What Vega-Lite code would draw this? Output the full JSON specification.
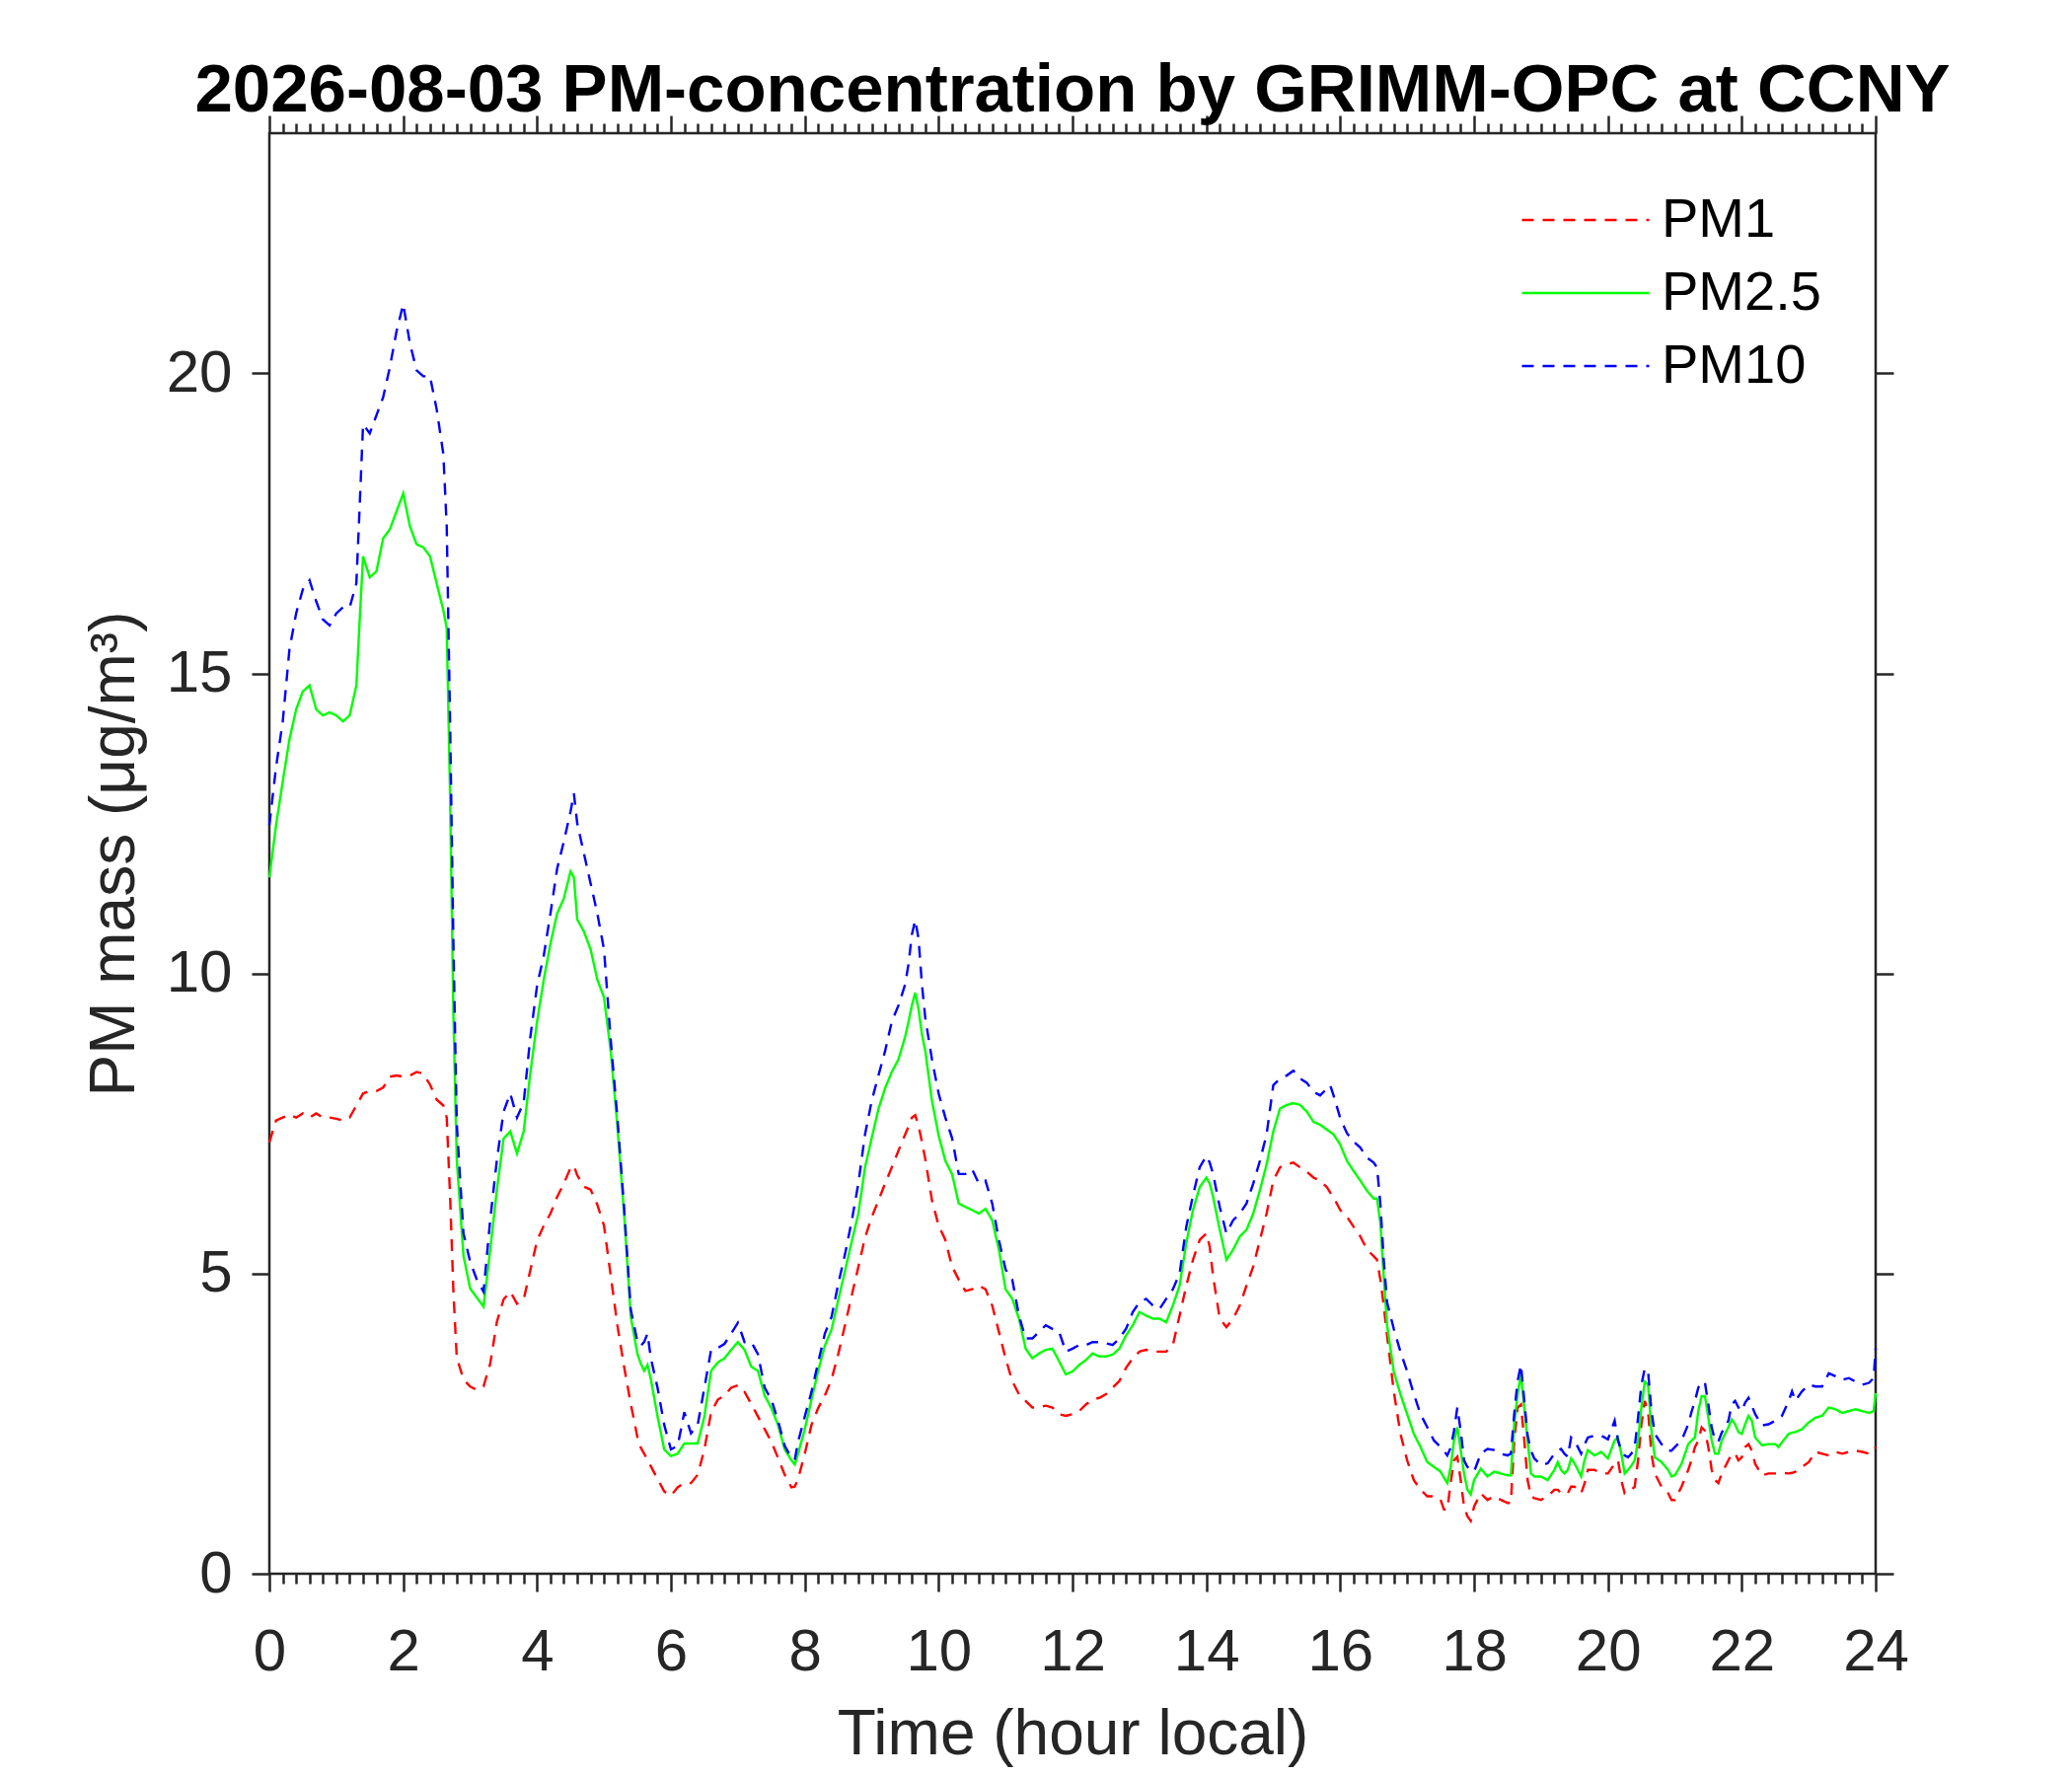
{
  "$schema": "https://vega.github.io/schema/vega-lite/v6.json",
  "width": 1628,
  "height": 1460,
  "autosize": "none",
  "padding": {"left": 273, "top": 135, "right": 199, "bottom": 205},
  "background": "white",
  "config": {
    "view": {"stroke": "#262626", "strokeWidth": 2.5},
    "font": "Liberation Sans"
  },
  "title": {
    "text": "2026-08-03 PM-concentration by GRIMM-OPC at CCNY",
    "fontSize": 69,
    "fontWeight": "bold",
    "font": "Liberation Sans",
    "color": "#000000",
    "anchor": "middle",
    "baseline": "alphabetic",
    "offset": 2,
    "dy": 68
  },
  "data": {
    "values": [
      {"h":0,"PM1":7.19,"PM25":11.6,"PM10":12.47},
      {"h":0.1,"PM1":7.55,"PM25":12.47,"PM10":13.44},
      {"h":0.2,"PM1":7.6,"PM25":13.2,"PM10":14.2},
      {"h":0.3,"PM1":7.65,"PM25":13.9,"PM10":15.4},
      {"h":0.4,"PM1":7.6,"PM25":14.4,"PM10":16.0},
      {"h":0.5,"PM1":7.67,"PM25":14.7,"PM10":16.4},
      {"h":0.6,"PM1":7.6,"PM25":14.8,"PM10":16.55},
      {"h":0.7,"PM1":7.67,"PM25":14.4,"PM10":16.2},
      {"h":0.8,"PM1":7.6,"PM25":14.3,"PM10":15.9},
      {"h":0.9,"PM1":7.6,"PM25":14.35,"PM10":15.8},
      {"h":1.0,"PM1":7.58,"PM25":14.3,"PM10":16.0},
      {"h":1.1,"PM1":7.55,"PM25":14.2,"PM10":16.1},
      {"h":1.2,"PM1":7.6,"PM25":14.3,"PM10":16.1},
      {"h":1.3,"PM1":7.8,"PM25":14.8,"PM10":16.5},
      {"h":1.35,"PM1":7.9,"PM25":15.9,"PM10":17.8},
      {"h":1.4,"PM1":8.0,"PM25":16.95,"PM10":19.15},
      {"h":1.5,"PM1":8.04,"PM25":16.6,"PM10":19.0},
      {"h":1.6,"PM1":8.04,"PM25":16.7,"PM10":19.3},
      {"h":1.7,"PM1":8.1,"PM25":17.25,"PM10":19.6},
      {"h":1.8,"PM1":8.28,"PM25":17.4,"PM10":20.1},
      {"h":1.9,"PM1":8.3,"PM25":17.7,"PM10":20.7},
      {"h":2.0,"PM1":8.28,"PM25":18.0,"PM10":21.15},
      {"h":2.1,"PM1":8.3,"PM25":17.45,"PM10":20.5},
      {"h":2.2,"PM1":8.36,"PM25":17.15,"PM10":20.05},
      {"h":2.3,"PM1":8.33,"PM25":17.1,"PM10":19.95},
      {"h":2.4,"PM1":8.15,"PM25":16.95,"PM10":19.95},
      {"h":2.5,"PM1":7.9,"PM25":16.5,"PM10":19.4},
      {"h":2.6,"PM1":7.8,"PM25":16.05,"PM10":18.65},
      {"h":2.65,"PM1":7.6,"PM25":15.75,"PM10":17.45},
      {"h":2.7,"PM1":6.3,"PM25":12.95,"PM10":14.2},
      {"h":2.75,"PM1":4.7,"PM25":9.3,"PM10":10.5},
      {"h":2.8,"PM1":3.6,"PM25":6.9,"PM10":7.5},
      {"h":2.9,"PM1":3.24,"PM25":5.3,"PM10":5.67},
      {"h":3.0,"PM1":3.12,"PM25":4.75,"PM10":5.2},
      {"h":3.1,"PM1":3.06,"PM25":4.6,"PM10":4.9},
      {"h":3.2,"PM1":3.12,"PM25":4.45,"PM10":4.7},
      {"h":3.3,"PM1":3.5,"PM25":5.4,"PM10":5.9},
      {"h":3.4,"PM1":4.2,"PM25":6.4,"PM10":6.9},
      {"h":3.5,"PM1":4.57,"PM25":7.25,"PM10":7.7},
      {"h":3.6,"PM1":4.7,"PM25":7.37,"PM10":8.0},
      {"h":3.7,"PM1":4.5,"PM25":7.0,"PM10":7.6},
      {"h":3.8,"PM1":4.57,"PM25":7.37,"PM10":7.85},
      {"h":3.9,"PM1":5.06,"PM25":8.35,"PM10":8.95},
      {"h":4.0,"PM1":5.55,"PM25":9.2,"PM10":9.8},
      {"h":4.1,"PM1":5.8,"PM25":9.9,"PM10":10.3},
      {"h":4.2,"PM1":6.0,"PM25":10.5,"PM10":11.0},
      {"h":4.3,"PM1":6.28,"PM25":11.0,"PM10":11.75},
      {"h":4.4,"PM1":6.5,"PM25":11.25,"PM10":12.2},
      {"h":4.5,"PM1":6.76,"PM25":11.7,"PM10":12.7},
      {"h":4.55,"PM1":6.8,"PM25":11.6,"PM10":13.0},
      {"h":4.6,"PM1":6.64,"PM25":10.9,"PM10":12.5},
      {"h":4.7,"PM1":6.45,"PM25":10.7,"PM10":12.0},
      {"h":4.8,"PM1":6.4,"PM25":10.4,"PM10":11.5},
      {"h":4.9,"PM1":6.15,"PM25":9.9,"PM10":11.0},
      {"h":5.0,"PM1":5.8,"PM25":9.6,"PM10":10.4},
      {"h":5.1,"PM1":4.97,"PM25":8.71,"PM10":8.9},
      {"h":5.2,"PM1":4.14,"PM25":7.46,"PM10":7.6},
      {"h":5.3,"PM1":3.45,"PM25":6.0,"PM10":6.1},
      {"h":5.4,"PM1":2.83,"PM25":4.28,"PM10":4.4},
      {"h":5.5,"PM1":2.27,"PM25":3.66,"PM10":3.86},
      {"h":5.55,"PM1":2.1,"PM25":3.5,"PM10":3.8},
      {"h":5.6,"PM1":2.0,"PM25":3.38,"PM10":3.86},
      {"h":5.65,"PM1":1.9,"PM25":3.48,"PM10":4.0},
      {"h":5.7,"PM1":1.79,"PM25":3.24,"PM10":3.59},
      {"h":5.8,"PM1":1.58,"PM25":2.62,"PM10":3.1},
      {"h":5.9,"PM1":1.37,"PM25":2.07,"PM10":2.48},
      {"h":6.0,"PM1":1.3,"PM25":1.96,"PM10":2.07},
      {"h":6.1,"PM1":1.44,"PM25":2.0,"PM10":2.13},
      {"h":6.2,"PM1":1.51,"PM25":2.17,"PM10":2.69},
      {"h":6.3,"PM1":1.51,"PM25":2.17,"PM10":2.34},
      {"h":6.4,"PM1":1.65,"PM25":2.17,"PM10":2.48},
      {"h":6.5,"PM1":2.07,"PM25":2.62,"PM10":3.1},
      {"h":6.6,"PM1":2.69,"PM25":3.38,"PM10":3.73},
      {"h":6.7,"PM1":2.9,"PM25":3.52,"PM10":3.76},
      {"h":6.8,"PM1":2.97,"PM25":3.59,"PM10":3.83},
      {"h":6.9,"PM1":3.1,"PM25":3.73,"PM10":4.0},
      {"h":7.0,"PM1":3.14,"PM25":3.86,"PM10":4.18},
      {"h":7.1,"PM1":3.03,"PM25":3.73,"PM10":3.86},
      {"h":7.2,"PM1":2.83,"PM25":3.45,"PM10":3.86},
      {"h":7.3,"PM1":2.62,"PM25":3.38,"PM10":3.66},
      {"h":7.4,"PM1":2.41,"PM25":2.97,"PM10":3.1},
      {"h":7.5,"PM1":2.2,"PM25":2.76,"PM10":2.9},
      {"h":7.6,"PM1":1.93,"PM25":2.48,"PM10":2.55},
      {"h":7.7,"PM1":1.65,"PM25":2.07,"PM10":2.13},
      {"h":7.8,"PM1":1.44,"PM25":1.89,"PM10":1.93},
      {"h":7.85,"PM1":1.45,"PM25":1.82,"PM10":1.9},
      {"h":7.9,"PM1":1.58,"PM25":2.0,"PM10":2.2},
      {"h":8.0,"PM1":2.0,"PM25":2.41,"PM10":2.62},
      {"h":8.1,"PM1":2.48,"PM25":2.9,"PM10":3.03},
      {"h":8.2,"PM1":2.76,"PM25":3.38,"PM10":3.52},
      {"h":8.3,"PM1":2.97,"PM25":3.8,"PM10":4.0},
      {"h":8.4,"PM1":3.24,"PM25":4.07,"PM10":4.28},
      {"h":8.5,"PM1":3.66,"PM25":4.56,"PM10":4.83},
      {"h":8.6,"PM1":4.14,"PM25":5.04,"PM10":5.32},
      {"h":8.7,"PM1":4.63,"PM25":5.53,"PM10":5.87},
      {"h":8.8,"PM1":5.11,"PM25":6.0,"PM10":6.5},
      {"h":8.9,"PM1":5.6,"PM25":6.77,"PM10":7.32},
      {"h":9.0,"PM1":5.94,"PM25":7.26,"PM10":7.88},
      {"h":9.1,"PM1":6.22,"PM25":7.74,"PM10":8.3},
      {"h":9.2,"PM1":6.5,"PM25":8.09,"PM10":8.71},
      {"h":9.3,"PM1":6.77,"PM25":8.36,"PM10":9.2},
      {"h":9.4,"PM1":7.05,"PM25":8.57,"PM10":9.47},
      {"h":9.5,"PM1":7.32,"PM25":8.95,"PM10":9.82},
      {"h":9.55,"PM1":7.45,"PM25":9.2,"PM10":10.16},
      {"h":9.6,"PM1":7.6,"PM25":9.47,"PM10":10.65},
      {"h":9.65,"PM1":7.64,"PM25":9.68,"PM10":10.89},
      {"h":9.7,"PM1":7.46,"PM25":9.4,"PM10":10.58},
      {"h":9.75,"PM1":7.2,"PM25":8.99,"PM10":9.82},
      {"h":9.8,"PM1":6.91,"PM25":8.71,"PM10":9.26},
      {"h":9.9,"PM1":6.22,"PM25":7.88,"PM10":8.57},
      {"h":10.0,"PM1":5.8,"PM25":7.3,"PM10":8.0},
      {"h":10.1,"PM1":5.56,"PM25":6.88,"PM10":7.6},
      {"h":10.2,"PM1":5.12,"PM25":6.66,"PM10":7.26},
      {"h":10.3,"PM1":4.9,"PM25":6.17,"PM10":6.66},
      {"h":10.4,"PM1":4.71,"PM25":6.11,"PM10":6.66},
      {"h":10.5,"PM1":4.74,"PM25":6.06,"PM10":6.74},
      {"h":10.6,"PM1":4.8,"PM25":6.0,"PM10":6.5},
      {"h":10.7,"PM1":4.74,"PM25":6.08,"PM10":6.55},
      {"h":10.8,"PM1":4.47,"PM25":5.89,"PM10":6.17},
      {"h":10.9,"PM1":4.03,"PM25":5.4,"PM10":5.56},
      {"h":11.0,"PM1":3.59,"PM25":4.74,"PM10":5.07},
      {"h":11.1,"PM1":3.21,"PM25":4.58,"PM10":4.9},
      {"h":11.2,"PM1":2.99,"PM25":4.25,"PM10":4.3},
      {"h":11.3,"PM1":2.88,"PM25":3.75,"PM10":3.92},
      {"h":11.4,"PM1":2.77,"PM25":3.59,"PM10":3.92},
      {"h":11.5,"PM1":2.77,"PM25":3.67,"PM10":4.03},
      {"h":11.6,"PM1":2.8,"PM25":3.73,"PM10":4.14},
      {"h":11.7,"PM1":2.77,"PM25":3.75,"PM10":4.08},
      {"h":11.8,"PM1":2.66,"PM25":3.54,"PM10":4.03},
      {"h":11.9,"PM1":2.63,"PM25":3.32,"PM10":3.7},
      {"h":12.0,"PM1":2.66,"PM25":3.37,"PM10":3.75},
      {"h":12.1,"PM1":2.71,"PM25":3.48,"PM10":3.81},
      {"h":12.2,"PM1":2.82,"PM25":3.56,"PM10":3.81},
      {"h":12.3,"PM1":2.9,"PM25":3.67,"PM10":3.86},
      {"h":12.4,"PM1":2.93,"PM25":3.62,"PM10":3.86},
      {"h":12.5,"PM1":2.99,"PM25":3.62,"PM10":3.84},
      {"h":12.6,"PM1":3.1,"PM25":3.65,"PM10":3.81},
      {"h":12.7,"PM1":3.21,"PM25":3.75,"PM10":3.92},
      {"h":12.8,"PM1":3.43,"PM25":3.97,"PM10":4.08},
      {"h":12.9,"PM1":3.59,"PM25":4.14,"PM10":4.36},
      {"h":13.0,"PM1":3.7,"PM25":4.36,"PM10":4.52},
      {"h":13.1,"PM1":3.73,"PM25":4.3,"PM10":4.58},
      {"h":13.2,"PM1":3.7,"PM25":4.25,"PM10":4.47},
      {"h":13.3,"PM1":3.7,"PM25":4.25,"PM10":4.41},
      {"h":13.4,"PM1":3.7,"PM25":4.19,"PM10":4.58},
      {"h":13.5,"PM1":3.81,"PM25":4.47,"PM10":4.74},
      {"h":13.6,"PM1":4.3,"PM25":4.8,"PM10":5.0},
      {"h":13.7,"PM1":4.8,"PM25":5.51,"PM10":5.78},
      {"h":13.8,"PM1":5.23,"PM25":6.06,"PM10":6.3},
      {"h":13.9,"PM1":5.56,"PM25":6.44,"PM10":6.77},
      {"h":14.0,"PM1":5.67,"PM25":6.6,"PM10":6.96},
      {"h":14.05,"PM1":5.45,"PM25":6.5,"PM10":6.85},
      {"h":14.1,"PM1":4.96,"PM25":6.28,"PM10":6.66},
      {"h":14.2,"PM1":4.25,"PM25":5.73,"PM10":6.11},
      {"h":14.3,"PM1":4.11,"PM25":5.23,"PM10":5.67},
      {"h":14.4,"PM1":4.25,"PM25":5.4,"PM10":5.89},
      {"h":14.5,"PM1":4.47,"PM25":5.62,"PM10":6.0},
      {"h":14.6,"PM1":4.8,"PM25":5.73,"PM10":6.17},
      {"h":14.7,"PM1":5.12,"PM25":6.0,"PM10":6.5},
      {"h":14.8,"PM1":5.56,"PM25":6.39,"PM10":6.88},
      {"h":14.9,"PM1":6.0,"PM25":6.82,"PM10":7.32},
      {"h":15.0,"PM1":6.55,"PM25":7.37,"PM10":8.14},
      {"h":15.1,"PM1":6.77,"PM25":7.75,"PM10":8.25},
      {"h":15.2,"PM1":6.82,"PM25":7.81,"PM10":8.3},
      {"h":15.3,"PM1":6.85,"PM25":7.84,"PM10":8.38},
      {"h":15.4,"PM1":6.77,"PM25":7.81,"PM10":8.25},
      {"h":15.5,"PM1":6.7,"PM25":7.7,"PM10":8.18},
      {"h":15.6,"PM1":6.6,"PM25":7.53,"PM10":8.03},
      {"h":15.7,"PM1":6.55,"PM25":7.48,"PM10":7.97},
      {"h":15.8,"PM1":6.44,"PM25":7.4,"PM10":8.08},
      {"h":15.85,"PM1":6.35,"PM25":7.36,"PM10":8.14},
      {"h":15.9,"PM1":6.27,"PM25":7.32,"PM10":7.97},
      {"h":16.0,"PM1":6.06,"PM25":7.15,"PM10":7.59},
      {"h":16.1,"PM1":5.95,"PM25":6.88,"PM10":7.34},
      {"h":16.2,"PM1":5.78,"PM25":6.71,"PM10":7.2},
      {"h":16.3,"PM1":5.62,"PM25":6.55,"PM10":7.1},
      {"h":16.4,"PM1":5.4,"PM25":6.38,"PM10":6.93},
      {"h":16.5,"PM1":5.29,"PM25":6.25,"PM10":6.85},
      {"h":16.55,"PM1":5.23,"PM25":6.25,"PM10":6.77},
      {"h":16.6,"PM1":4.9,"PM25":5.84,"PM10":6.16},
      {"h":16.65,"PM1":4.47,"PM25":4.96,"PM10":5.23},
      {"h":16.7,"PM1":3.97,"PM25":4.14,"PM10":4.52},
      {"h":16.8,"PM1":3.04,"PM25":3.37,"PM10":4.08},
      {"h":16.9,"PM1":2.33,"PM25":2.99,"PM10":3.7},
      {"h":17.0,"PM1":1.89,"PM25":2.66,"PM10":3.37},
      {"h":17.1,"PM1":1.56,"PM25":2.33,"PM10":2.99},
      {"h":17.2,"PM1":1.4,"PM25":2.11,"PM10":2.66},
      {"h":17.3,"PM1":1.29,"PM25":1.86,"PM10":2.44},
      {"h":17.4,"PM1":1.29,"PM25":1.78,"PM10":2.22},
      {"h":17.5,"PM1":1.23,"PM25":1.7,"PM10":2.11},
      {"h":17.55,"PM1":1.07,"PM25":1.6,"PM10":2.05},
      {"h":17.6,"PM1":1.07,"PM25":1.51,"PM10":1.97},
      {"h":17.65,"PM1":1.51,"PM25":1.78,"PM10":2.1},
      {"h":17.7,"PM1":1.89,"PM25":2.22,"PM10":2.38},
      {"h":17.75,"PM1":1.95,"PM25":2.44,"PM10":2.77},
      {"h":17.8,"PM1":1.56,"PM25":2.06,"PM10":2.38},
      {"h":17.85,"PM1":1.12,"PM25":1.67,"PM10":1.89},
      {"h":17.9,"PM1":0.96,"PM25":1.4,"PM10":1.78},
      {"h":17.95,"PM1":0.88,"PM25":1.32,"PM10":1.74},
      {"h":18.0,"PM1":1.12,"PM25":1.56,"PM10":1.7},
      {"h":18.1,"PM1":1.34,"PM25":1.75,"PM10":2.0},
      {"h":18.2,"PM1":1.23,"PM25":1.62,"PM10":2.08},
      {"h":18.3,"PM1":1.29,"PM25":1.7,"PM10":2.06},
      {"h":18.4,"PM1":1.23,"PM25":1.67,"PM10":2.0},
      {"h":18.5,"PM1":1.18,"PM25":1.64,"PM10":1.97},
      {"h":18.55,"PM1":1.18,"PM25":1.64,"PM10":2.0},
      {"h":18.6,"PM1":2.22,"PM25":2.5,"PM10":2.66},
      {"h":18.65,"PM1":2.77,"PM25":2.99,"PM10":3.21},
      {"h":18.7,"PM1":2.82,"PM25":3.32,"PM10":3.48},
      {"h":18.75,"PM1":2.22,"PM25":2.77,"PM10":2.88},
      {"h":18.8,"PM1":1.56,"PM25":2.22,"PM10":2.3},
      {"h":18.85,"PM1":1.29,"PM25":1.67,"PM10":2.05},
      {"h":18.9,"PM1":1.26,"PM25":1.62,"PM10":1.92},
      {"h":19.0,"PM1":1.23,"PM25":1.62,"PM10":1.81},
      {"h":19.1,"PM1":1.29,"PM25":1.56,"PM10":1.84},
      {"h":19.2,"PM1":1.4,"PM25":1.73,"PM10":2.0},
      {"h":19.25,"PM1":1.4,"PM25":1.86,"PM10":2.05},
      {"h":19.3,"PM1":1.34,"PM25":1.73,"PM10":2.08},
      {"h":19.35,"PM1":1.34,"PM25":1.67,"PM10":2.0},
      {"h":19.4,"PM1":1.34,"PM25":1.73,"PM10":1.95},
      {"h":19.45,"PM1":1.45,"PM25":1.92,"PM10":2.27},
      {"h":19.5,"PM1":1.45,"PM25":1.84,"PM10":2.22},
      {"h":19.6,"PM1":1.34,"PM25":1.62,"PM10":2.0},
      {"h":19.65,"PM1":1.5,"PM25":1.89,"PM10":2.15},
      {"h":19.7,"PM1":1.73,"PM25":2.06,"PM10":2.27},
      {"h":19.8,"PM1":1.73,"PM25":1.97,"PM10":2.3},
      {"h":19.9,"PM1":1.67,"PM25":2.03,"PM10":2.3},
      {"h":20.0,"PM1":1.67,"PM25":1.92,"PM10":2.24},
      {"h":20.1,"PM1":1.83,"PM25":2.22,"PM10":2.55},
      {"h":20.15,"PM1":1.89,"PM25":2.27,"PM10":2.22},
      {"h":20.2,"PM1":1.56,"PM25":2.0,"PM10":2.05},
      {"h":20.25,"PM1":1.34,"PM25":1.67,"PM10":1.97},
      {"h":20.3,"PM1":1.37,"PM25":1.73,"PM10":1.94},
      {"h":20.35,"PM1":1.4,"PM25":1.8,"PM10":2.0},
      {"h":20.4,"PM1":1.45,"PM25":1.89,"PM10":2.11},
      {"h":20.45,"PM1":1.89,"PM25":2.22,"PM10":2.6},
      {"h":20.5,"PM1":2.49,"PM25":2.77,"PM10":3.15},
      {"h":20.55,"PM1":2.88,"PM25":3.2,"PM10":3.42},
      {"h":20.6,"PM1":2.71,"PM25":3.15,"PM10":3.37},
      {"h":20.65,"PM1":2.0,"PM25":2.38,"PM10":2.71},
      {"h":20.7,"PM1":1.67,"PM25":1.94,"PM10":2.33},
      {"h":20.8,"PM1":1.45,"PM25":1.86,"PM10":2.16},
      {"h":20.9,"PM1":1.34,"PM25":1.73,"PM10":2.05},
      {"h":20.95,"PM1":1.23,"PM25":1.62,"PM10":2.05},
      {"h":21.0,"PM1":1.23,"PM25":1.64,"PM10":2.11},
      {"h":21.1,"PM1":1.45,"PM25":1.83,"PM10":2.22},
      {"h":21.2,"PM1":1.73,"PM25":2.16,"PM10":2.49},
      {"h":21.25,"PM1":1.9,"PM25":2.22,"PM10":2.7},
      {"h":21.3,"PM1":2.11,"PM25":2.27,"PM10":2.88},
      {"h":21.35,"PM1":2.22,"PM25":2.71,"PM10":3.1},
      {"h":21.4,"PM1":2.44,"PM25":2.96,"PM10":3.2},
      {"h":21.45,"PM1":2.38,"PM25":2.96,"PM10":3.18},
      {"h":21.5,"PM1":2.11,"PM25":2.6,"PM10":2.82},
      {"h":21.55,"PM1":1.73,"PM25":2.22,"PM10":2.44},
      {"h":21.6,"PM1":1.56,"PM25":2.0,"PM10":2.22},
      {"h":21.65,"PM1":1.51,"PM25":2.0,"PM10":2.2},
      {"h":21.7,"PM1":1.67,"PM25":2.22,"PM10":2.35},
      {"h":21.8,"PM1":1.89,"PM25":2.44,"PM10":2.55},
      {"h":21.85,"PM1":2.0,"PM25":2.57,"PM10":2.82},
      {"h":21.9,"PM1":2.0,"PM25":2.49,"PM10":2.88},
      {"h":21.95,"PM1":1.89,"PM25":2.36,"PM10":2.77},
      {"h":22.0,"PM1":1.94,"PM25":2.33,"PM10":2.71},
      {"h":22.05,"PM1":2.11,"PM25":2.49,"PM10":2.85},
      {"h":22.1,"PM1":2.16,"PM25":2.63,"PM10":2.93},
      {"h":22.15,"PM1":2.05,"PM25":2.55,"PM10":2.8},
      {"h":22.2,"PM1":1.83,"PM25":2.27,"PM10":2.66},
      {"h":22.3,"PM1":1.64,"PM25":2.14,"PM10":2.47},
      {"h":22.4,"PM1":1.67,"PM25":2.16,"PM10":2.49},
      {"h":22.5,"PM1":1.67,"PM25":2.16,"PM10":2.55},
      {"h":22.55,"PM1":1.67,"PM25":2.11,"PM10":2.58},
      {"h":22.6,"PM1":1.68,"PM25":2.19,"PM10":2.63},
      {"h":22.7,"PM1":1.67,"PM25":2.33,"PM10":2.88},
      {"h":22.75,"PM1":1.68,"PM25":2.35,"PM10":3.04},
      {"h":22.8,"PM1":1.7,"PM25":2.36,"PM10":2.88},
      {"h":22.9,"PM1":1.78,"PM25":2.41,"PM10":3.04},
      {"h":23.0,"PM1":1.86,"PM25":2.52,"PM10":3.15},
      {"h":23.1,"PM1":2.03,"PM25":2.6,"PM10":3.12},
      {"h":23.2,"PM1":2.0,"PM25":2.63,"PM10":3.12},
      {"h":23.3,"PM1":1.97,"PM25":2.77,"PM10":3.34},
      {"h":23.4,"PM1":2.03,"PM25":2.74,"PM10":3.29},
      {"h":23.5,"PM1":2.0,"PM25":2.68,"PM10":3.23},
      {"h":23.6,"PM1":2.03,"PM25":2.71,"PM10":3.26},
      {"h":23.7,"PM1":2.05,"PM25":2.74,"PM10":3.2},
      {"h":23.8,"PM1":2.03,"PM25":2.71,"PM10":3.15},
      {"h":23.9,"PM1":2.0,"PM25":2.68,"PM10":3.18},
      {"h":23.97,"PM1":2.05,"PM25":2.71,"PM10":3.26},
      {"h":24.0,"PM1":2.11,"PM25":3.01,"PM10":3.75}
    ]
  },
  "transform": [
    {"fold": ["PM1", "PM25", "PM10"], "as": ["series", "value"]}
  ],
  "encoding": {
    "color": {
      "field": "series",
      "type": "nominal",
      "scale": {"domain": ["PM1", "PM25", "PM10"], "range": ["#ff0000", "#00ff00", "#0000ff"]},
      "legend": {
        "orient": "none",
        "legendX": 1306,
        "legendY": 60,
        "title": null,
        "padding": 0,
        "symbolType": "M-5,0H5",
        "symbolSize": 666,
        "symbolStrokeWidth": 2.4,
        "labelFont": "Liberation Sans",
        "labelFontSize": 56,
        "labelColor": "#000000",
        "labelOffset": 49,
        "labelLimit": 400,
        "rowPadding": 18,
        "labelExpr": "datum.label === 'PM25' ? 'PM2.5' : datum.label"
      }
    },
    "strokeDash": {
      "field": "series",
      "type": "nominal",
      "scale": {"domain": ["PM1", "PM25", "PM10"], "range": [[12, 9], [1, 0], [12, 9]]},
      "legend": null
    }
  },
  "resolve": {"axis": {"x": "independent", "y": "independent"}},
  "layer": [
    {
      "transform": [{"filter": "datum.series === 'PM1'"}],
      "mark": {"type": "line", "strokeWidth": 2.4},
      "encoding": {
        "x": {
          "field": "h", "type": "quantitative",
          "scale": {"domain": [0, 24], "nice": false, "zero": false},
          "axis": {
            "orient": "bottom",
            "title": "Time (hour local)",
            "titleFont": "Liberation Sans",
            "titleFontSize": 64,
            "titleFontWeight": "normal",
            "titleColor": "#262626",
            "titlePadding": 22,
            "tickCount": 120,
            "domain": false,
            "grid": false,
            "ticks": true,
            "tickColor": "#262626",
            "tickWidth": 2.5,
            "tickSize": {"condition": {"test": "datum.value % 2 === 0", "value": 18}, "value": 10},
            "labelExpr": "datum.value % 2 === 0 ? format(datum.value, 'd') : ''",
            "labelFont": "Liberation Sans",
            "labelFontSize": 60,
            "labelColor": "#262626",
            "labelPadding": 32,
            "labelFlush": false,
            "labelOverlap": false,
            "labelBound": false
          }
        },
        "y": {
          "field": "value", "type": "quantitative",
          "scale": {"domain": [0, 24], "nice": false},
          "axis": {
            "orient": "left",
            "title": "PM mass (μg/m³)",
            "titleFont": "Liberation Sans",
            "titleFontSize": 64,
            "titleFontWeight": "normal",
            "titleColor": "#262626",
            "titlePadding": 20,
            "values": [0, 5, 10, 15, 20],
            "domain": false,
            "grid": false,
            "tickColor": "#262626",
            "tickWidth": 2.5,
            "tickSize": 18,
            "labelFont": "Liberation Sans",
            "labelFontSize": 60,
            "labelColor": "#262626",
            "labelPadding": 20,
            "labelFlush": false,
            "labelOverlap": false
          }
        }
      }
    },
    {
      "transform": [{"filter": "datum.series === 'PM25'"}],
      "mark": {"type": "line", "strokeWidth": 2.4},
      "encoding": {
        "x": {
          "field": "h", "type": "quantitative",
          "axis": {
            "orient": "top",
            "title": null,
            "tickCount": 120,
            "domain": false,
            "grid": false,
            "labels": false,
            "tickColor": "#262626",
            "tickWidth": 2.5,
            "tickSize": {"condition": {"test": "datum.value % 2 === 0", "value": 18}, "value": 10}
          }
        },
        "y": {
          "field": "value", "type": "quantitative",
          "axis": {
            "orient": "right",
            "title": null,
            "values": [0, 5, 10, 15, 20],
            "domain": false,
            "grid": false,
            "labels": false,
            "tickColor": "#262626",
            "tickWidth": 2.5,
            "tickSize": 18
          }
        }
      }
    },
    {
      "transform": [{"filter": "datum.series === 'PM10'"}],
      "mark": {"type": "line", "strokeWidth": 2.4},
      "encoding": {
        "x": {"field": "h", "type": "quantitative", "axis": null},
        "y": {"field": "value", "type": "quantitative", "axis": null}
      }
    }
  ]
}
